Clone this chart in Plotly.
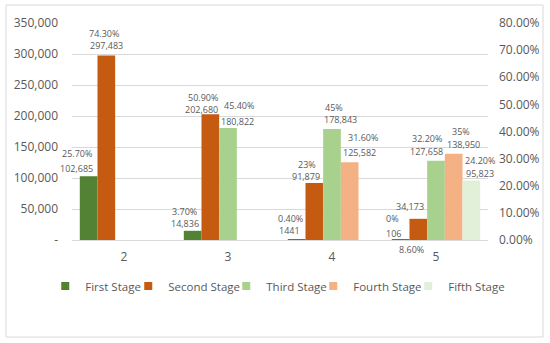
import plotly.graph_objects as go

# ---------------- data ----------------
categories = ["2", "3", "4", "5"]
stages = ["First Stage", "Second Stage", "Third Stage", "Fourth Stage", "Fifth Stage"]

first_stage = [102685, 14836, 1441, 106]
second_stage = [297483, 202680, 91879, 34173]
third_stage = [None, 180822, 178843, 127658]
fourth_stage = [None, None, 125582, 138950]
fifth_stage = [None, None, None, 95823]

first_pct = [25.70, 3.70, 0.40, 0]
second_pct = [74.30, 50.90, 23, 8.60]
third_pct = [None, 45.40, 45, 32.20]
fourth_pct = [None, None, 31.60, 35]
fifth_pct = [None, None, None, 24.20]

left_tick_vals = [0, 50000, 100000, 150000, 200000, 250000, 300000, 350000]
left_tick_text = ["-", "50,000", "100,000", "150,000", "200,000", "250,000", "300,000", "350,000"]
right_tick_vals = [0, 0.1, 0.2, 0.3, 0.4, 0.5, 0.6, 0.7, 0.8]

values = [first_stage, second_stage, third_stage, fourth_stage, fifth_stage]
pcts = [first_pct, second_pct, third_pct, fourth_pct, fifth_pct]

# ---------------- styles ----------------
colors = ["#548235", "#C55A11", "#A9D18E", "#F4B183", "#E2F0D9"]
FONT = "Open Sans"
TXT = "#595959"

# label placement (pixel offsets relative to bar centre / bar top), per stage per category
value_offsets = [
    [(-12, 8), (-8, 7), (-7, 9), (-7, 6)],
    [(0, 10), (-9, 5), (-8, 7), (-8, 12)],
    [None, (9, 6), (8, 10), (-10, 9)],
    [None, None, (10, 10), (10, 9)],
    [None, None, None, (9, 7)],
]
pct_offsets = [
    [(-12, 23), (-8, 19), (-6, 21), (-8, 21)],
    [(-2, 22), (-7, 17), (-7, 19), (-7, -31)],
    [None, (11, 22), (2, 22), (-9, 22)],
    [None, None, (13, 25), (7, 22)],
    [None, None, None, (9, 20)],
]
# legend entry: marker centre and text start (px from the left of the figure)
legend_marker_x = [71.5, 154.5, 252.5, 339.5, 434.5]
legend_text_x = [79, 162, 260, 347, 442]

ML, MR, MT, MB = 72, 62, 23, 103
W, H = 550, 343
BARGAP = 0.15
plot_w = W - ML - MR
plot_h = H - MT - MB
cat_w = plot_w / len(categories)
bar_w = cat_w * (1 - BARGAP) / len(stages)


def fmt_val(v):
    return f"{v:,}" if v >= 10000 else str(v)


def fmt_pct(p):
    return f"{int(p)}%" if p == int(p) else f"{p:.2f}%"


legend_names = ["legend"] + [f"legend{k}" for k in range(2, len(stages) + 1)]

fig = go.Figure()
for i, (name, vals) in enumerate(zip(stages, values)):
    fig.add_trace(go.Bar(
        name=name, x=categories, y=vals,
        marker=dict(color=colors[i], line=dict(width=0)),
        hoverinfo="skip", showlegend=False,
    ))
    # legend entry with a small square key, as in the original
    fig.add_trace(go.Scatter(
        name=name, x=[None], y=[None], mode="markers",
        marker=dict(symbol="square", size=8, color=colors[i]),
        legend=legend_names[i], showlegend=True, hoverinfo="skip",
    ))

# secondary axis carrier for percentages (invisible)
for i, p in enumerate(pcts):
    fig.add_trace(go.Scatter(
        x=categories, y=[None if v is None else v / 100 for v in p],
        yaxis="y2", mode="markers", marker=dict(opacity=0),
        showlegend=False, hoverinfo="skip",
    ))

annotations = []
for i in range(len(stages)):
    bar_dx = (i - (len(stages) - 1) / 2) * bar_w
    for j, cat in enumerate(categories):
        v = values[i][j]
        if v is None:
            continue
        vo = value_offsets[i][j]
        po = pct_offsets[i][j]
        annotations.append(dict(
            x=j, y=v, xref="x", yref="y", text=fmt_val(v), showarrow=False,
            xshift=bar_dx + vo[0], yshift=vo[1], xanchor="center", yanchor="middle",
            font=dict(family=FONT, size=9, color=TXT),
        ))
        annotations.append(dict(
            x=j, y=v, xref="x", yref="y", text=fmt_pct(pcts[i][j]), showarrow=False,
            xshift=bar_dx + po[0], yshift=po[1], xanchor="center", yanchor="middle",
            font=dict(family=FONT, size=9, color=TXT),
        ))

border = dict(
    type="rect", xref="paper", yref="paper",
    x0=(6 - ML) / plot_w, x1=(543 - ML) / plot_w,
    y0=(H - MB - 337) / plot_h, y1=(H - MB - 5) / plot_h,
    line=dict(color="#D9D9D9", width=1), fillcolor="rgba(0,0,0,0)", layer="below",
)

layout_legends = {}
for i, ln in enumerate(legend_names):
    mid = (legend_marker_x[i] + legend_text_x[i]) / 2
    layout_legends[ln] = dict(
        orientation="h", xanchor="left", x=(mid - 30 - ML) / plot_w,
        yanchor="middle", y=-(286 - (H - MB)) / plot_h,
        font=dict(family=FONT, size=11.5, color=TXT),
        itemwidth=30, bgcolor="rgba(0,0,0,0)", borderwidth=0,
    )

fig.update_layout(
    width=W, height=H,
    margin=dict(l=ML, r=MR, t=MT, b=MB, autoexpand=False),
    paper_bgcolor="white", plot_bgcolor="white",
    barmode="group", bargap=BARGAP, bargroupgap=0,
    font=dict(family=FONT, color=TXT),
    xaxis=dict(
        type="category", categoryorder="array", categoryarray=categories,
        range=[-0.5, len(categories) - 0.5], autorange=False,
        showline=True, linecolor="#D9D9D9", linewidth=1,
        ticks="", showgrid=False, ticklabelstandoff=6,
        tickfont=dict(family=FONT, size=12, color=TXT),
    ),
    yaxis=dict(
        range=[0, 350000], tickvals=left_tick_vals, ticktext=left_tick_text,
        showgrid=True, gridcolor="#D9D9D9", gridwidth=1, zeroline=False,
        showline=False, ticks="", ticklabelstandoff=13,
        tickfont=dict(family=FONT, size=12, color=TXT),
    ),
    yaxis2=dict(
        overlaying="y", side="right", range=[0, 0.8], tickvals=right_tick_vals,
        tickformat=".2%", showgrid=False, zeroline=False, showline=False,
        ticks="", ticklabelstandoff=10,
        tickfont=dict(family=FONT, size=12, color=TXT),
    ),
    annotations=annotations,
    shapes=[border],
    showlegend=True,
    **layout_legends,
)

fig.write_html(
    "out.html",
    config={"displayModeBar": False},
    post_script="document.body.style.margin='0px';",
)
